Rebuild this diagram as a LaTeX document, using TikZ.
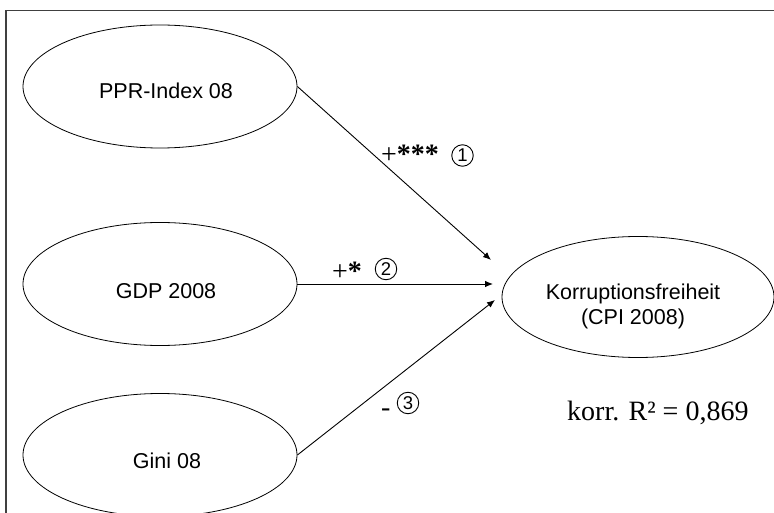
\documentclass[tikz,border=0pt]{standalone}
\usepackage{fontspec}
\setmainfont{Liberation Serif}
\newfontfamily\labelsans{Liberation Sans}
\usetikzlibrary{shapes.geometric,arrows.meta}

\tikzset{
  var/.style={ellipse, draw, line width=0.8pt, inner sep=0pt,
    minimum width=274pt, minimum height=123pt},
  vartext/.style={font=\labelsans\fontsize{21.5pt}{25pt}\selectfont, inner sep=0pt, align=center},
  effect/.style={line width=0.9pt, -{Latex[length=8pt,width=6.5pt]}},
  coef/.style={font=\fontsize{28pt}{30pt}\selectfont, inner sep=0pt, anchor=base west},
  pathno/.style={circle, draw, line width=0.9pt, minimum size=21.5pt, inner sep=0pt,
    font=\labelsans\fontsize{18.5pt}{18.5pt}\selectfont},
  frameline/.style={line width=1.6pt, draw=black!75}
}
\newcommand{\stars}[1]{{\bfseries #1}}

\begin{document}
\begin{tikzpicture}[x=1pt, y=-1pt]
  \useasboundingbox (0,0) rectangle (774,513);

  % open frame: top and left edges
  \draw[frameline] (6,513) -- (6,10.5) -- (774,10.5);

  % explanatory variables
  \node[var] (ppr)  at (160,86.5) {};
  \node[var] (gdp)  at (160,284)  {};
  \node[var] (gini) at (160,455)  {};
  \node[vartext] (pprtxt)  at (166,91)  {PPR-Index 08};
  \node[vartext] (gdptxt)  at (166,291) {GDP 2008};
  \node[vartext] (ginitxt) at (167,461) {Gini 08};

  % dependent variable
  \node[var, minimum width=272pt, minimum height=121pt] (cpi) at (638,297) {};
  \node[vartext] (cpitxt) at (633,306) {Korruptionsfreiheit\\(CPI 2008)};

  % arrow targets
  \coordinate (t1) at (491,260);
  \coordinate (t2) at (493,284);
  \coordinate (t3) at (495,300);

  \draw[effect] (ppr.east)  -- (t1);
  \draw[effect] (gdp.east)  -- (t2);
  \draw[effect] (gini.east) -- (t3);

  % coefficient signs
  \node[coef] (c1) at (381,164) {+\stars{***}};
  \node[coef] (c2) at (332,280) {+\stars{*}};
  \node[coef] (c3) at (381,416) {-};

  % path numbers
  \node[pathno] (n1) at (462.5,155.5) {1};
  \node[pathno] (n2) at (386,269)     {2};
  \node[pathno] (n3) at (408,403)     {3};

  % model fit
  \node[coef] (r2) at (567,420) {korr. R² = 0,869};
\end{tikzpicture}
\end{document}
